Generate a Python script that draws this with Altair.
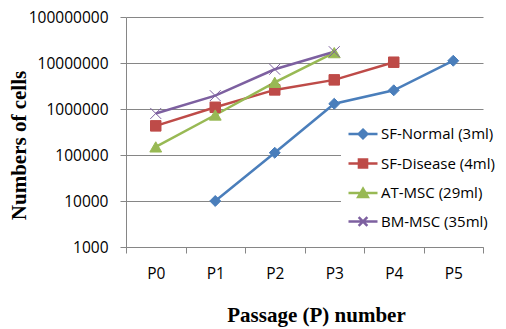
import altair as alt
import pandas as pd

passages = ["P0", "P1", "P2", "P3", "P4", "P5"]
series_names = ["SF-Normal (3ml)", "SF-Disease (4ml)", "AT-MSC (29ml)", "BM-MSC (35ml)"]

sf_normal_passages = ["P1", "P2", "P3", "P4", "P5"]
sf_normal = [10000, 112000, 1300000, 2550000, 11200000]
sf_disease_passages = ["P0", "P1", "P2", "P3", "P4"]
sf_disease = [430000, 1090000, 2600000, 4300000, 10400000]
at_msc_passages = ["P0", "P1", "P2", "P3"]
at_msc = [150000, 740000, 3800000, 16800000]
bm_msc_passages = ["P0", "P1", "P2", "P3"]
bm_msc = [800000, 1950000, 7300000, 17600000]

y_ticks = [1000, 10000, 100000, 1000000, 10000000, 100000000]
colors = ["#4A7EBB", "#BE4B48", "#98B954", "#7D60A0"]

rows = []
for name, ps, vs in [
    (series_names[0], sf_normal_passages, sf_normal),
    (series_names[1], sf_disease_passages, sf_disease),
    (series_names[2], at_msc_passages, at_msc),
    (series_names[3], bm_msc_passages, bm_msc),
]:
    for p, v in zip(ps, vs):
        rows.append({"series": name, "passage": p, "cells": v})
df = pd.DataFrame(rows)

GRAY = "#868686"
LABEL_FONT = "Open Sans"
TITLE_FONT = "Liberation Serif"

x_enc = alt.X(
    "passage:O",
    scale=alt.Scale(domain=passages, type="band", paddingInner=0, paddingOuter=0),
    bandPosition=0.5,
    axis=alt.Axis(
        labelAngle=0, tickBand="extent", grid=False,
        labelFont=LABEL_FONT, labelFontSize=15.5, labelColor="black",
        labelPadding=13, tickColor=GRAY, tickSize=6, domainColor=GRAY,
        title="Passage (P) number", titleFont=TITLE_FONT, titleFontWeight="bold",
        titleFontSize=21, titleColor="black", titleX=190, titleY=74,
        titleBaseline="alphabetic", titleAlign="center",
    ),
)
y_enc = alt.Y(
    "cells:Q",
    scale=alt.Scale(type="log", domain=[1000, 100000000]),
    axis=alt.Axis(
        values=y_ticks, format="d", grid=True, gridColor=GRAY,
        labelFont=LABEL_FONT, labelFontSize=15.5, labelColor="black",
        labelPadding=12, tickColor=GRAY, tickSize=6, domainColor=GRAY,
        title="Numbers of cells", titleFont=TITLE_FONT, titleFontWeight="bold",
        titleFontSize=21, titleColor="black", titleX=-101, titleY=128,
        titleBaseline="alphabetic", titleAlign="center", titleAngle=270,
    ),
)

marker_shapes = ["diamond", "square", "triangle-up", "M-1,-1L1,1M-1,1L1,-1"]
marker_sizes = [120, 110, 140, 120]

line_layers = []
point_layers = []
for i, name in enumerate(series_names):
    line_layers.append(
        alt.Chart(df)
        .transform_filter(alt.datum.series == name)
        .mark_line(strokeWidth=2.5, color=colors[i])
        .encode(x=x_enc, y=y_enc)
    )
    point_layers.append(
        alt.Chart(df)
        .transform_filter(alt.datum.series == name)
        .mark_point(shape=marker_shapes[i], filled=True, size=marker_sizes[i],
                    color=colors[i], stroke=colors[i], strokeWidth=1, opacity=1)
        .encode(x=x_enc, y=y_enc)
    )

legend_paths = [
    "M-1,0H1M0,-0.3L0.3,0L0,0.3L-0.3,0Z",
    "M-1,0H1M-0.28,-0.28H0.28V0.28H-0.28Z",
    "M-1,0H1M0,-0.3L0.33,0.27H-0.33Z",
    "M-1,0H1M-0.3,-0.3L0.3,0.3M-0.3,0.3L0.3,-0.3",
]

leg = alt.Legend(
    title=None, orient="none", legendX=215, legendY=95, padding=6,
    fillColor="white", symbolSize=841, symbolStrokeWidth=2.5,
    labelFont=LABEL_FONT, labelFontSize=15, labelColor="black",
    labelOffset=2, rowPadding=3.5, labelLimit=300,
)

legend_layer = alt.Chart(df).mark_point(
    filled=True, opacity=0, strokeWidth=2.5
).encode(
    x=x_enc, y=y_enc,
    color=alt.Color("series:N", scale=alt.Scale(domain=series_names, range=colors), legend=leg),
    stroke=alt.Stroke("series:N", scale=alt.Scale(domain=series_names, range=colors), legend=leg),
    shape=alt.Shape("series:N", scale=alt.Scale(domain=series_names, range=legend_paths), legend=leg),
)

chart = alt.layer(legend_layer, *line_layers, *point_layers).properties(
    width=357, height=230,
    autosize=alt.AutoSizeParams(type="none"),
    padding={"left": 118, "top": 9, "right": 15, "bottom": 81},
).configure_view(stroke=None).configure_legend(symbolOpacity=1)

chart.save("out.html", embed_options={"renderer": "svg", "actions": False})
